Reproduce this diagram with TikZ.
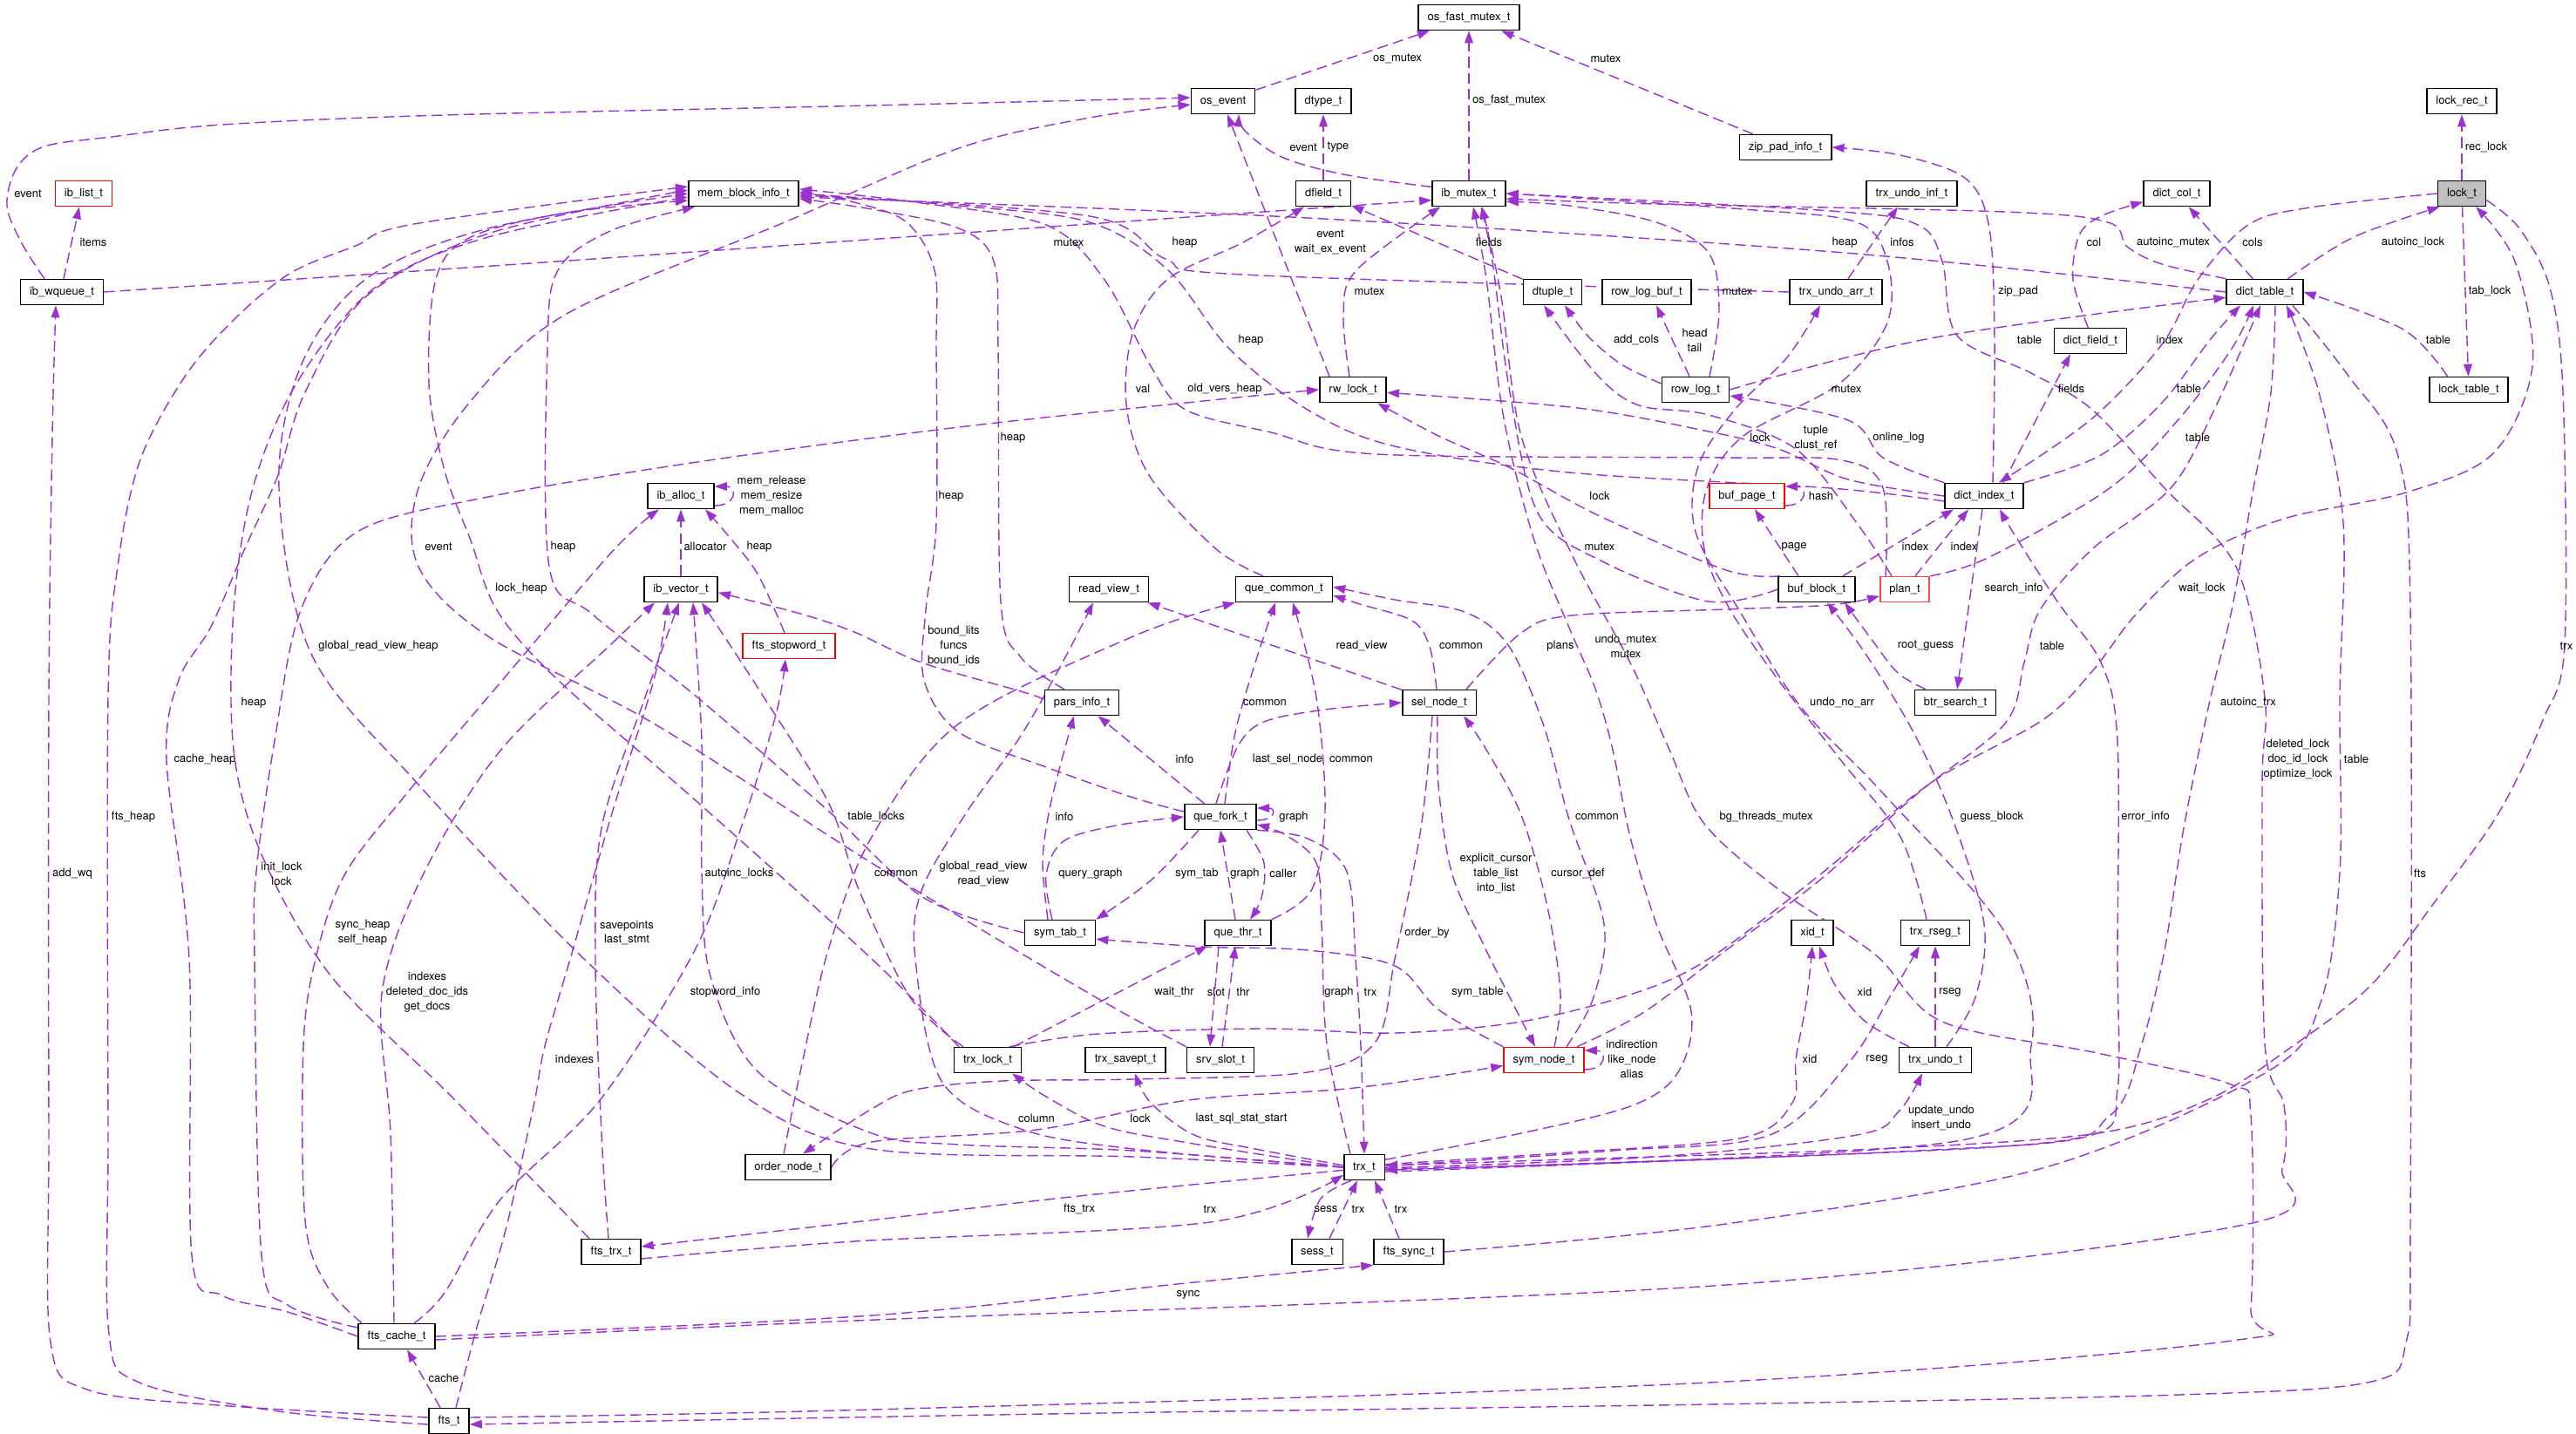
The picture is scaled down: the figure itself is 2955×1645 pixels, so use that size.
\documentclass[tikz,border=0pt]{standalone}
\usepackage{fontspec}
\setmainfont{TeX Gyre Heros}
\usetikzlibrary{arrows.meta, calc, backgrounds}

\definecolor{member}{RGB}{154,50,205}
\definecolor{rootgray}{RGB}{191,191,191}
\definecolor{softred}{RGB}{255,70,70}

\newcommand{\deproute}[1]{\draw[dep] plot[smooth, tension=0.55] coordinates {#1};}

\begin{document}
\begin{tikzpicture}[
    x=0.2mm, y=-0.2mm,
    cls/.style={rectangle, draw=black, line width=0.9pt, fill=white,
                minimum height=5.8mm, inner xsep=2.1mm, inner ysep=0pt,
                font=\fontsize{7.4}{9.6}\selectfont},
    redcls/.style={cls, draw=red},
    rootcls/.style={cls, fill=rootgray},
    lbl/.style={inner sep=0pt, align=center, font=\fontsize{7.4}{9.6}\selectfont},
    dep/.style={draw=member, line width=0.8pt, dash pattern=on 7pt off 3.5pt,
                -{Triangle[length=8pt, width=5.5pt]}},
]
\path[use as bounding box] (0,0) rectangle (2955,1645);

%% Classes, top band
\node[cls] (osfast)    at (1685,20)  {os\_fast\_mutex\_t};
\node[cls] (osevent)   at (1403,116) {os\_event};
\node[cls] (dtype)     at (1518,116) {dtype\_t};
\node[cls] (lockrec)   at (2824,116) {lock\_rec\_t};
\node[cls] (zippad)    at (2048,169) {zip\_pad\_info\_t};
\node[redcls] (iblist) at (96,222)   {ib\_list\_t};
\node[cls] (memblock)  at (853,222)  {mem\_block\_info\_t};
\node[cls] (dfield)    at (1518,222) {dfield\_t};
\node[cls] (ibmutex)   at (1685,222) {ib\_mutex\_t};
\node[cls] (undoinf)   at (2193,222) {trx\_undo\_inf\_t};
\node[cls] (dictcol)   at (2497,222) {dict\_col\_t};
\node[rootcls] (lock)  at (2824,222) {lock\_t};
\node[cls] (ibwqueue)  at (71,335)   {ib\_wqueue\_t};
\node[cls] (dtuple)    at (1781,335) {dtuple\_t};
\node[cls] (rowlogbuf) at (1889,335) {row\_log\_buf\_t};
\node[cls] (undoarr)   at (2106,335) {trx\_undo\_arr\_t};
\node[cls] (dicttable) at (2598,335) {dict\_table\_t};
\node[cls] (dictfield) at (2398,391) {dict\_field\_t};
\node[cls] (rwlock)    at (1552,447) {rw\_lock\_t};
\node[cls] (rowlog)    at (1945,447) {row\_log\_t};
\node[cls] (locktable) at (2832,447) {lock\_table\_t};

%% Classes, middle band
\node[cls] (iballoc)   at (781,569)  {ib\_alloc\_t};
\node[redcls] (bufpage) at (2004,569) {buf\_page\_t};
\node[cls] (dictindex) at (2276,569) {dict\_index\_t};
\node[cls] (ibvector)  at (781,676)  {ib\_vector\_t};
\node[cls] (readview)  at (1272,676) {read\_view\_t};
\node[cls] (quecommon) at (1473,676) {que\_common\_t};
\node[cls] (bufblock)  at (2084,676) {buf\_block\_t};
\node[cls, draw=softred] (plan) at (2185,676) {plan\_t};
\node[redcls] (stopword) at (905,741) {fts\_stopword\_t};
\node[cls] (parsinfo)  at (1241,806) {pars\_info\_t};
\node[cls] (selnode)   at (1651,806) {sel\_node\_t};
\node[cls] (btrsearch) at (2243,806) {btr\_search\_t};
\node[cls] (quefork)   at (1400,937) {que\_fork\_t};
\node[cls] (symtab)    at (1216,1070) {sym\_tab\_t};
\node[cls] (quethr)    at (1420,1070) {que\_thr\_t};
\node[cls] (xid)       at (2079,1070) {xid\_t};
\node[cls] (rseg)      at (2220,1070) {trx\_rseg\_t};

%% Classes, bottom band
\node[cls] (trxlock)   at (1133,1216) {trx\_lock\_t};
\node[cls] (savept)    at (1291,1216) {trx\_savept\_t};
\node[cls] (srvslot)   at (1400,1216) {srv\_slot\_t};
\node[redcls] (symnode) at (1771,1216) {sym\_node\_t};
\node[cls] (undo)      at (2220,1216) {trx\_undo\_t};
\node[cls] (ordernode) at (904,1339)  {order\_node\_t};
\node[cls] (trx)       at (1565,1339) {trx\_t};
\node[cls] (ftstrx)    at (701,1436)  {fts\_trx\_t};
\node[cls] (sess)      at (1511,1436) {sess\_t};
\node[cls] (ftssync)   at (1616,1436) {fts\_sync\_t};
\node[cls] (ftscache)  at (455,1533)  {fts\_cache\_t};
\node[cls] (fts)       at (515,1630)  {fts\_t};

%% Member labels
\node[lbl] (l1)  at (2852,169) {rec\_lock};
\node[lbl] (l2)  at (2856,334) {tab\_lock};
\node[lbl] (l3)  at (2797,390) {table};
\node[lbl] (l4)  at (2768,278) {autoinc\_lock};
\node[lbl] (l5)  at (2584,278) {cols};
\node[lbl] (l6)  at (2493,278) {autoinc\_mutex};
\node[lbl] (l7)  at (2116,278) {heap};
\node[lbl] (l8)  at (2489,390) {index};
\node[lbl] (l9)  at (2944,741) {trx};
\node[lbl] (l10) at (2526,675) {wait\_lock};
\node[lbl] (l11) at (2402,278) {col};
\node[lbl] (l12) at (2376,446) {fields};
\node[lbl] (l13) at (2511,446) {table};
\node[lbl] (l14) at (2315,334) {zip\_pad};
\node[lbl] (l15) at (1842,67)  {mutex};
\node[lbl] (l16) at (1603,67)  {os\_mutex};
\node[lbl] (l17) at (1731,115) {os\_fast\_mutex};
\node[lbl] (l18) at (1495,169) {event};
\node[lbl] (l19) at (1535,169) {type};
\node[lbl] (l20) at (1526,278) {event\\wait\_ex\_event};
\node[lbl] (l21) at (1571,334) {mutex};
\node[lbl] (l22) at (1708,278) {fields};
\node[lbl] (l23) at (1877,390) {add\_cols};
\node[lbl] (l24) at (1944,390) {head\\tail};
\node[lbl] (l25) at (1993,334) {mutex};
\node[lbl] (l26) at (2328,390) {table};
\node[lbl] (l27) at (2178,502) {online\_log};
\node[lbl] (l28) at (2019,502) {lock};
\node[lbl] (l29) at (2083,502) {tuple\\clust\_ref};
\node[lbl] (l30) at (2310,675) {search\_info};
\node[lbl] (l31) at (2209,741) {root\_guess};
\node[lbl] (l32) at (2058,627) {page};
\node[lbl] (l33) at (2089,569) {hash};
\node[lbl] (l34) at (2197,627) {index};
\node[lbl] (l35) at (2253,627) {index};
\node[lbl] (l36) at (2521,502) {table};
\node[lbl] (l37) at (1835,569) {lock};
\node[lbl] (l38) at (1835,627) {mutex};
\node[lbl] (l39) at (1790,741) {plans};
\node[lbl] (l40) at (1562,741) {read\_view};
\node[lbl] (l41) at (1676,741) {common};
\node[lbl] (l42) at (1451,806) {common};
\node[lbl] (l43) at (1359,871) {info};
\node[lbl] (l44) at (1477,871) {last\_sel\_node};
\node[lbl] (l45) at (1550,871) {common};
\node[lbl] (l46) at (1484,937) {graph};
\node[lbl] (l47) at (1373,1002) {sym\_tab};
\node[lbl] (l48) at (1428,1002) {graph};
\node[lbl] (l49) at (1472,1002) {caller};
\node[lbl] (l50) at (1251,1002) {query\_graph};
\node[lbl] (l51) at (1221,937) {info};
\node[lbl] (l52) at (1426,1138) {thr};
\node[lbl] (l53) at (1395,1138) {slot};
\node[lbl] (l54) at (1347,1138) {wait\_thr};
\node[lbl] (l55) at (1572,1138) {trx};
\node[lbl] (l56) at (1536,1138) {graph};
\node[lbl] (l57) at (1695,1138) {sym\_table};
\node[lbl] (l58) at (1872,1215) {indirection\\like\_node\\alias};
\node[lbl] (l59) at (1810,1002) {cursor\_def};
\node[lbl] (l60) at (1716,1002) {explicit\_cursor\\table\_list\\into\_list};
\node[lbl] (l61) at (1637,1070) {order\_by};
\node[lbl] (l62) at (1832,937) {common};
\node[lbl] (l63) at (1189,1283) {column};
\node[lbl] (l64) at (1028,1002) {common};
\node[lbl] (l65) at (1308,1283) {lock};
\node[lbl] (l66) at (1424,1283) {last\_sql\_stat\_start};
\node[lbl] (l67) at (1521,1387) {sess};
\node[lbl] (l68) at (1558,1387) {trx};
\node[lbl] (l69) at (1607,1387) {trx};
\node[lbl] (l70) at (1238,1387) {fts\_trx};
\node[lbl] (l71) at (1388,1387) {trx};
\node[lbl] (l72) at (1363,1485) {sync};
\node[lbl] (l73) at (509,1581)  {cache};
\node[lbl] (l74) at (2076,1215) {xid};
\node[lbl] (l75) at (2153,1215) {rseg};
\node[lbl] (l76) at (2139,1138) {xid};
\node[lbl] (l77) at (2237,1138) {rseg};
\node[lbl] (l78) at (2227,1282) {update\_undo\\insert\_undo};
\node[lbl] (l79) at (2285,937) {guess\_block};
\node[lbl] (l80) at (2113,806) {undo\_no\_arr};
\node[lbl] (l81) at (2182,278) {infos};
\node[lbl] (l82) at (1359,278) {heap};
\node[lbl] (l83) at (2118,446) {mutex};
\node[lbl] (l84) at (1226,278) {mutex};
\node[lbl] (l85) at (32,222)   {event};
\node[lbl] (l86) at (107,278)  {items};
\node[lbl] (l87) at (83,1002)  {add\_wq};
\node[lbl] (l88) at (153,937)  {fts\_heap};
\node[lbl] (l89) at (235,871)  {cache\_heap};
\node[lbl] (l90) at (323,1002) {init\_lock\\lock};
\node[lbl] (l91) at (416,1070) {sync\_heap\\self\_heap};
\node[lbl] (l92) at (490,1138) {indexes\\deleted\_doc\_ids\\get\_docs};
\node[lbl] (l93) at (832,1138) {stopword\_info};
\node[lbl] (l94) at (2636,871) {deleted\_lock\\doc\_id\_lock\\optimize\_lock};
\node[lbl] (l95) at (659,1215) {indexes};
\node[lbl] (l96) at (2026,937) {bg\_threads\_mutex};
\node[lbl] (l97) at (2776,1002) {fts};
\node[lbl] (l98) at (2703,871) {table};
\node[lbl] (l99) at (871,627)  {heap};
\node[lbl] (l100) at (809,627) {allocator};
\node[lbl] (l101) at (885,569) {mem\_release\\mem\_resize\\mem\_malloc};
\node[lbl] (l102) at (719,1070) {savepoints\\last\_stmt};
\node[lbl] (l103) at (848,1002) {autoinc\_locks};
\node[lbl] (l104) at (1005,937) {table\_locks};
\node[lbl] (l105) at (598,675) {lock\_heap};
\node[lbl] (l106) at (434,741) {global\_read\_view\_heap};
\node[lbl] (l107) at (1128,1002) {global\_read\_view\\read\_view};
\node[lbl] (l108) at (1094,741) {bound\_lits\\funcs\\bound\_ids};
\node[lbl] (l109) at (1162,502) {heap};
\node[lbl] (l110) at (646,627) {heap};
\node[lbl] (l111) at (1091,569) {heap};
\node[lbl] (l112) at (503,627) {event};
\node[lbl] (l113) at (1311,446) {val};
\node[lbl] (l114) at (1405,446) {old\_vers\_heap};
\node[lbl] (l115) at (1435,390) {heap};
\node[lbl] (l116) at (1865,741) {undo\_mutex\\mutex};
\node[lbl] (l117) at (2354,741) {table};
\node[lbl] (l118) at (2461,937) {error\_info};
\node[lbl] (l119) at (2579,806) {autoinc\_trx};
\node[lbl] (l120) at (291,806) {heap};

\begin{scope}[on background layer]
\fill[white] (0,0) rectangle (2955,1645);

%% lock_t and dictionary
\draw[dep] (lock) -- (lockrec);
\draw[dep] (lock) -- (locktable);
\deproute{(locktable.148) (2757,378) (dicttable.east)}
\deproute{(dicttable.30) (2700,272) (lock.211)}
\draw[dep] (dicttable) -- (dictcol);
\deproute{(dicttable.north west) (2480,303) (2440,283) (2418,255) (2300,243) (1900,234) (ibmutex.-8)}
\deproute{(dicttable.west) (2116,290) (1500,250) ($(memblock.east)+(0,4)$)}
\deproute{(lock.west) (2650,238) (2579,258) (2521,321) (2480,395) (2400,480) (dictindex.42)}
\deproute{(lock.-15) (2890,262) (2925,330) (2940,450) (2942,740) (2917,826) (2866,933) (2789,1040) (2720,1130) (2630,1200) (2534,1261) (2406,1300) (2151,1318) (1800,1330) (trx.5)}
\deproute{($(trxlock.north)+(25,0)$) (1260,1186) (1450,1180) (1600,1185) (1745,1172) (1873,1140) (1960,1100) (2087,1004) (2215,898) (2343,826) (2400,770) (2450,705) (2520,640) (2620,595) (2760,565) (2860,520) (2905,420) (2885,300) ($(lock.south)+(16,0)$)}
\deproute{(dictfield.100) (2378,321) (2385,270) (2410,248) (dictcol.194)}
\draw[dep] ($(dictindex.north)+(22,0)$) -- ($(dictfield.south)+(-23,0)$);
\deproute{(dictindex.north east) (2410,522) (2480,462) (2535,390) ($(dicttable.south)+(-28,0)$)}
\deproute{($(dictindex.north)+(10,0)$) (2288,390) (2282,262) (2255,205) (2180,178) (zippad.east)}
\draw[dep] (zippad) -- (osfast);
\draw[dep] (osevent) -- (osfast);
\draw[dep] (ibmutex) -- (osfast);
\deproute{(ibmutex.170) (1541,200) (1470,180) (1428,150) (osevent.-40)}
\draw[dep] (dfield) -- (dtype);
\draw[dep] ($(rwlock.north)+(-27,0)$) -- ($(osevent.south)+(5,0)$);
\deproute{($(rwlock.north)+(-4,0)$) (1541,360) (1556,310) (ibmutex.205)}
\draw[dep] (dtuple) -- (dfield);
\deproute{(rowlog.170) (1860,418) (1822,386) ($(dtuple.south)+(14,0)$)}
\draw[dep] ($(rowlog.north)+(-7,0)$) -- ($(rowlogbuf.south)+(11,0)$);
\deproute{($(rowlog.north)+(16,0)$) (1972,357) (1960,290) (1900,255) (1800,236) (ibmutex.-12)}
\deproute{(rowlog.east) (2215,388) (dicttable.188)}
\deproute{(dictindex.north west) (2160,525) (2120,482) (rowlog.-10)}
\deproute{(dictindex.west) (2120,550) (2040,515) (1960,495) (1810,468) (rwlock.-5)}
\deproute{($(plan.north)+(-15,0)$) (2130,600) (2060,515) (1960,476) (1880,465) (1832,430) ($(dtuple.south)+(-10,0)$)}
\draw[dep] (dictindex) -- (btrsearch);
\deproute{($(btrsearch.north)+(-34,0)$) (2177,772) (2148,735) ($(bufblock.south)+(32,0)$)}
\draw[dep] ($(bufblock.north)+(-21,0)$) -- ($(bufpage.south)+(9,0)$);
\draw[dep] ($(bufpage.east)+(0,11)$) .. controls +(26,0) and +(26,0) .. ($(bufpage.east)+(0,-11)$);
\draw[dep] ($(bufblock.north)+(30,0)$) -- ($(dictindex.south)+(-35,0)$);
\draw[dep] ($(plan.north)+(12,0)$) -- ($(dictindex.south)+(-18,0)$);
\deproute{(plan.north east) (2280,640) (2420,560) (2500,480) (2560,400) ($(dicttable.south)+(-13,0)$)}
\deproute{(bufblock.160) (1980,654) (1835,592) (1733,537) (1650,500) ($(rwlock.south)+(28,0)$)}
\deproute{(bufblock.west) (1960,690) (1840,645) (1765,590) (1732,450) (1712,300) ($(ibmutex.south)+(14,0)$)}

%% query graph
\deproute{($(selnode.north)+(31,0)$) (1745,726) (1803,706) (1980,699) (2100,694) (plan.195)}
\draw[dep] (selnode) -- (readview);
\deproute{($(selnode.north)+(-3,0)$) (1640,742) (1620,712) (1560,693) (quecommon.-7)}
\deproute{($(quefork.north)+(5,0)$) (1417,840) (1440,760) ($(quecommon.south)+(-10,0)$)}
\draw[dep] (quefork) -- (parsinfo);
\deproute{($(quefork.north)+(-5,0)$) (1420,856) (1450,828) (1520,814) (selnode.west)}
\deproute{(quethr.north east) (1505,1020) (1520,930) (1510,800) ($(quecommon.south)+(10,0)$)}
\draw[dep] ($(quefork.east)+(0,4)$) .. controls +(22,0) and +(22,0) .. ($(quefork.east)+(0,-10)$);
\deproute{($(quefork.south)+(-25,0)$) (1320,1010) (symtab.north east)}
\draw[dep] ($(quethr.north)+(-3,0)$) -- (quefork.south);
\deproute{($(quefork.south)+(30,0)$) (1450,990) (1447,1030) ($(quethr.north)+(14,0)$)}
\deproute{($(symtab.north)+(-9,0)$) (1200,1004) (1220,965) (1280,947) (quefork.west)}
\deproute{($(symtab.north)+(-14,0)$) (1196,990) (1203,933) (1216,879) ($(parsinfo.south)+(-9,0)$)}
\draw[dep] ($(srvslot.north)+(2,0)$) -- ($(quethr.south)+(-3,0)$);
\draw[dep] ($(quethr.south)+(-22,0)$) -- ($(srvslot.north)+(-12,0)$);
\draw[dep] ($(trxlock.north)+(30,0)$) -- ($(quethr.south)+(-35,0)$);
\deproute{(quefork.south east) (1500,962) (1545,1000) (1555,1100) (1561,1200) (trx.north)}
\deproute{($(trx.north)+(-16,0)$) (1522,1197) (1516,1060) (1510,990) (1475,958) (quefork.-12)}
\deproute{(symnode.north west) (1650,1158) (1600,1108) (1500,1090) (1380,1086) (symtab.-10)}
\draw[dep] ($(symnode.east)+(0,11)$) .. controls +(26,0) and +(26,0) .. ($(symnode.east)+(0,-11)$);
\deproute{($(symnode.north)+(12,0)$) (1790,1140) (1775,1040) (1745,935) (1705,860) ($(selnode.south)+(28,0)$)}
\deproute{($(selnode.south)+(-2,0)$) (1650,900) (1665,1000) (1700,1080) (1740,1160) ($(symnode.north)+(-10,0)$)}
\deproute{($(selnode.south)+(-8,0)$) (1630,950) (1600,1100) (1578,1195) (1500,1230) (1300,1238) (1150,1240) (1050,1250) (1000,1272) ($(ordernode.north)+(17,0)$)}
\deproute{($(symnode.north)+(26,0)$) (1828,1144) (1840,1060) (1800,940) (1770,830) (1730,740) (1680,702) (1600,688) (quecommon.3)}
\deproute{(ordernode.east) (1000,1310) (1189,1296) (1363,1262) (1554,1248) (symnode.188)}
\deproute{($(ordernode.north)+(-5,0)$) (918,1230) (950,1090) (1000,960) (1100,830) (1300,730) (quecommon.south west)}

%% trx_t
\deproute{(trx.west) (1363,1311) (1267,1292) (1200,1258) ($(trxlock.south)+(28,0)$)}
\deproute{(trx.175) (1440,1318) (1370,1302) (1320,1265) ($(savept.south)+(11,0)$)}
\deproute{($(trx.south)+(-15,0)$) (1515,1375) ($(sess.north)+(-11,0)$)}
\draw[dep] ($(sess.north)+(14,0)$) -- ($(trx.south)+(-8,0)$);
\draw[dep] ($(ftssync.north)+(-11,0)$) -- ($(trx.south)+(12,0)$);
\deproute{(trx.188) (1238,1372) (980,1402) ($(ftstrx.east)+(0,-6)$)}
\deproute{($(ftstrx.east)+(0,8)$) (980,1424) (1388,1402) (trx.200)}
\deproute{(ftscache.east) (1000,1509) (1360,1472) (ftssync.south west)}
\draw[dep] ($(fts.north)+(-10,0)$) -- ($(ftscache.south)+(12,0)$);
\deproute{(trx.8) (1800,1322) (2000,1305) (2056,1265) (2060,1215) (2072,1150) (xid.south)}
\deproute{(trx.3) (1850,1320) (2030,1302) (2120,1220) (2170,1140) ($(rseg.south)+(-18,0)$)}
\deproute{($(undo.north)+(-30,0)$) (2140,1172) (2105,1130) ($(xid.south)+(8,0)$)}
\draw[dep] (undo) -- (rseg);
\deproute{(trx.-2) (1900,1327) (2130,1302) (2178,1275) ($(undo.south)+(-15,0)$)}
\deproute{($(undo.north)+(13,0)$) (2266,1144) (2276,1060) (2240,940) (2195,840) (2140,750) ($(bufblock.south)+(12,0)$)}
\deproute{(trx.-5) (2250,1308) (2330,1200) (2300,1070) (2160,910) (2065,810) (1995,700) (1945,610) (1948,535) (1990,470) (2050,410) ($(undoarr.south)+(-18,0)$)}
\draw[dep] ($(undoarr.north)+(14,0)$) -- ($(undoinf.south)+(-16,0)$);
\deproute{(undoarr.west) (1426,315) (1337,297) (1250,248) ($(memblock.east)+(0,2)$)}
\deproute{($(rseg.north)+(-10,0)$) (2180,960) (2110,870) (2040,780) (1985,700) (1955,630) (1958,560) (2000,500) (2110,440) (2165,370) (2165,300) (2130,255) (2000,240) (ibmutex.east)}
\deproute{(trx.20) (1745,1300) (1873,1268) (1925,1230) (1940,1160) (1900,1060) (1870,960) (1850,860) (1830,790) (1800,720) (1760,620) (1725,480) (1705,320) ($(ibmutex.south)+(5,0)$)}
\deproute{(trx.-12) (2200,1320) (2400,1302) (2429,1250) (2429,1100) (2429,850) (2410,760) (2360,690) (2310,612) ($(dictindex.south)+(18,0)$)}
\deproute{($(dicttable.south)+(12,0)$) (2605,450) (2585,560) (2560,700) (2534,808) (2505,950) (2483,1090) (2457,1197) (2420,1280) (2300,1315) (trx.-8)}
\deproute{($(symnode.north)+(38,0)$) (1886,1161) (1980,1090) (2087,1010) (2200,910) (2300,830) (2322,760) (2340,700) (2400,630) (2490,560) (2540,470) ($(dicttable.south)+(-5,0)$)}

%% fts and the allocators
\deproute{(ibwqueue.east) (638,300) (1235,258) (ibmutex.190)}
\deproute{($(ibwqueue.north)+(-20,0)$) (25,279) (8,236) (19,193) (51,168) (128,157) (255,143) (510,132) (1000,121) ($(osevent.west)+(0,-4)$)}
\draw[dep] ($(ibwqueue.north)+(2,0)$) -- ($(iblist.south)+(-5,0)$);
\deproute{($(fts.west)+(0,-4)$) (250,1612) (100,1594) (58,1540) (56,1300) (56,800) (60,500) ($(ibwqueue.south)+(-7,0)$)}
\deproute{($(fts.west)+(0,4)$) (320,1619) (160,1586) (125,1530) (124,1300) (124,800) (135,650) (160,530) (210,435) (265,370) (332,314) (408,282) (475,257) ($(memblock.west)+(0,-8)$)}
\deproute{(ftscache.west) (330,1505) (255,1486) (220,1440) (217,1100) (191,872) (205,780) (242,719) (281,629) (319,545) (350,450) (420,340) (560,268) ($(memblock.west)+(0,-4)$)}
\deproute{($(ftscache.west)+(0,-10)$) (330,1497) (300,1440) (292,1100) (294,1000) (315,850) (345,700) (410,610) (560,570) (800,530) (1100,490) (1400,458) (rwlock.west)}
\deproute{($(ftstrx.north)+(-25,0)$) (520,1260) (380,1120) (300,980) (268,860) (268,700) (290,560) (340,440) (430,330) (560,272) ($(memblock.west)+(0,4)$)}
\deproute{($(ftscache.north)+(-40,0)$) (375,1475) (350,1400) (348,1200) (362,1100) (395,1004) (466,911) (574,783) (702,633) ($(iballoc.south)+(-25,0)$)}
\deproute{($(ftscache.north)+(-3,0)$) (448,1300) (438,1140) (485,1004) (574,861) (700,740) ($(ibvector.south)+(-30,0)$)}
\deproute{($(fts.north)+(8,0)$) (548,1519) (580,1411) (612,1269) (625,1200) (657,1090) (702,933) (750,780) ($(ibvector.south)+(-15,0)$)}
\deproute{($(ftscache.north)+(20,0)$) (510,1483) (574,1376) (689,1261) (797,1090) (850,950) (890,820) ($(stopword.south)+(-4,0)$)}
\deproute{($(ftstrx.north)+(-3,0)$) (690,1300) (683,1100) (690,950) (740,800) ($(ibvector.south)+(-2,0)$)}
\deproute{(trx.west) (1300,1320) (1100,1313) (1000,1300) (870,1230) (815,1120) (805,1000) (805,850) ($(ibvector.south)+(14,0)$)}
\deproute{($(trxlock.north)+(-28,0)$) (1044,1144) (985,1020) (950,920) (870,790) ($(ibvector.south)+(24,0)$)}
\deproute{($(trxlock.north)+(-33,0)$) (1000,1100) (800,920) (640,780) (570,700) (540,620) (510,540) (492,440) (500,320) (540,272) (650,244) ($(memblock.west)+(0,8)$)}
\deproute{(trx.west) (1300,1327) (1000,1318) (850,1255) (670,1100) (480,900) (357,750) (320,560) (345,420) (420,320) (560,262) (memblock.west)}
\deproute{(trx.west) (1300,1318) (1171,1295) (1080,1240) (1050,1100) (1057,1022) (1108,933) (1171,844) (1222,754) ($(readview.south)+(-18,0)$)}
\deproute{(parsinfo.175) (1171,793) (1057,760) (980,725) (918,704) (ibvector.-5)}
\deproute{($(parsinfo.north)+(-20,0)$) (1171,754) (1148,690) (1145,400) (1140,300) (1100,262) (1000,240) ($(memblock.east)+(0,6)$)}
\deproute{($(quefork.west)+(0,-6)$) (1300,915) (1200,880) (1100,840) (1060,780) (1062,700) (1074,600) (1074,400) (1072,310) (1040,255) (980,232) ($(memblock.east)+(0,-2)$)}
\deproute{(symtab.west) (1060,1030) (950,930) (800,800) (680,705) (630,650) (628,400) (640,310) (700,265) ($(memblock.south west)+(8,0)$)}
\deproute{(srvslot.north west) (1250,1140) (1000,990) (750,830) (560,730) (480,650) (480,560) (540,460) (650,360) (900,255) (1100,170) (1250,135) ($(osevent.west)+(0,4)$)}
\deproute{($(quecommon.north)+(-24,0)$) (1394,629) (1318,545) (1292,464) (1300,380) (1340,320) (1426,278) ($(dfield.south)+(-22,0)$)}
\deproute{($(plan.north)+(-22,0)$) (2160,560) (2113,528) (1980,525) (1579,521) (1458,496) (1360,470) (1320,420) (1267,321) (1200,258) (1050,232) ($(memblock.east)+(0,-5)$)}
\deproute{($(dictindex.west)+(0,6)$) (2100,560) (1800,542) (1600,512) (1500,470) (1410,400) (1340,310) (1250,255) (1100,236) (memblock.east)}
\deproute{($(fts.east)+(0,-4)$) (1000,1617) (1960,1586) (2560,1538) (2582,1500) (2582,1280) (2559,1244) (2406,1208) (2228,1172) (2151,1095) (2040,1020) (1955,945) (1915,860) (1870,760) (1805,640) (1745,500) (1722,340) ($(ibmutex.south)+(15,0)$)}
\deproute{($(ftscache.east)+(0,4)$) (980,1515) (1980,1474) (2579,1404) (2618,1340) (2620,1268) (2598,1197) (2595,900) (2598,800) (2565,650) (2483,560) (2400,470) (2330,428) (2245,385) (2228,300) (2200,258) (2100,242) (ibmutex.east)}
\deproute{(ftssync.east) (1980,1404) (2343,1340) (2600,1230) (2662,1150) (2684,1000) (2684,800) (2688,600) (2660,450) ($(dicttable.south)+(25,0)$)}
\deproute{($(dicttable.south)+(32,0)$) (2693,430) (2750,520) (2765,700) (2765,1400) (2760,1540) (2720,1585) (2500,1600) (1960,1611) (1200,1622) ($(fts.east)+(0,4)$)}
\deproute{($(stopword.north)+(-5,0)$) (870,660) (840,620) ($(iballoc.south)+(28,0)$)}
\draw[dep] (ibvector) -- (iballoc);
\draw[dep] ($(iballoc.east)+(0,11)$) .. controls +(26,0) and +(26,0) .. ($(iballoc.east)+(0,-11)$);
\end{scope}

\end{tikzpicture}
\end{document}
